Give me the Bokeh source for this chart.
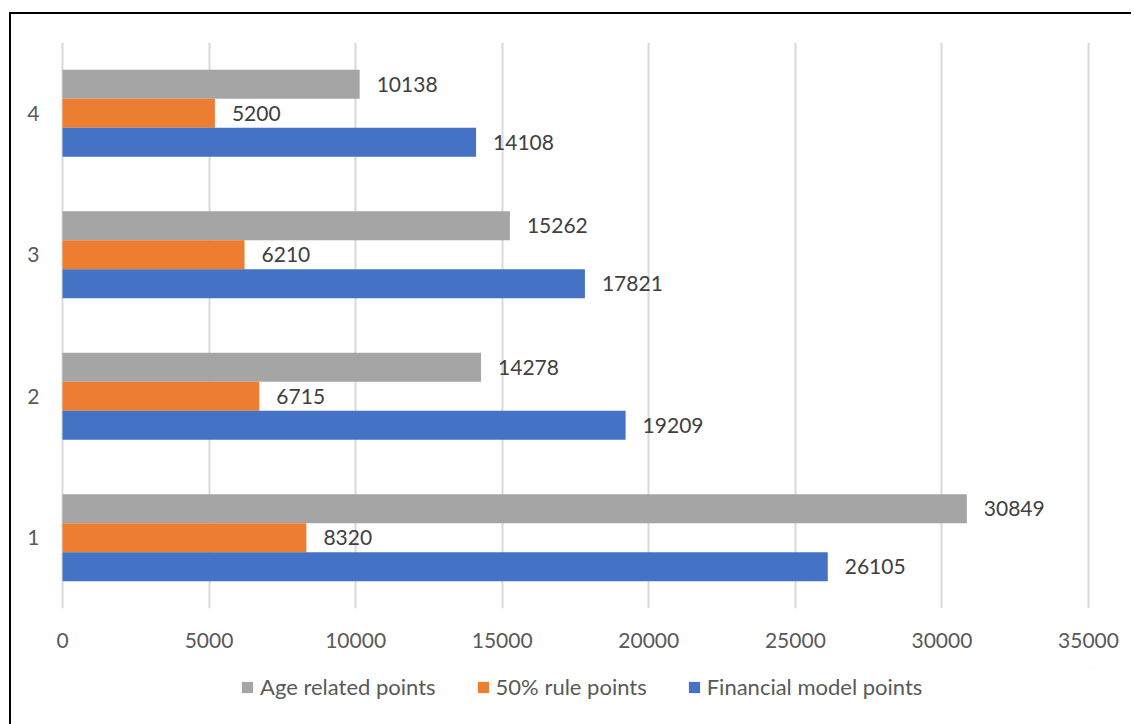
from bokeh.plotting import figure
from bokeh.layouts import column
from bokeh.models import ColumnDataSource, FactorRange, Range1d, Legend, LegendItem, FixedTicker
from bokeh.transform import dodge
from bokeh.core.properties import value
from bokeh.embed import file_html
from bokeh.resources import INLINE

categories = ["1", "2", "3", "4"]
financial = [26105, 19209, 17821, 14108]
rule50 = [8320, 6715, 6210, 5200]
age = [30849, 14278, 15262, 10138]
series_names = ["Age related points", "50% rule points", "Financial model points"]
x_ticks = [0, 5000, 10000, 15000, 20000, 25000, 30000, 35000]

FONT = "Lato"
colors = {"age": "#A5A5A5", "rule": "#ED7D31", "fin": "#4472C4"}

src = ColumnDataSource(dict(cat=categories, fin=financial, rule=rule50, age=age,
                            fin_t=[str(v) for v in financial],
                            rule_t=[str(v) for v in rule50],
                            age_t=[str(v) for v in age]))

p = figure(width=1120, height=654, output_backend="svg", toolbar_location=None,
           y_range=FactorRange(factors=categories, range_padding=0),
           x_range=Range1d(-170, 35170),
           min_border_left=46, min_border_right=38, min_border_top=28, min_border_bottom=60)
p.outline_line_color = None
p.background_fill_color = "white"
p.border_fill_color = "white"

h = 0.205
p.hbar(y=dodge("cat", h, range=p.y_range), right="age", left=0, height=h,
       source=src, fill_color=colors["age"], line_color=None)
p.hbar(y=dodge("cat", 0, range=p.y_range), right="rule", left=0, height=h,
       source=src, fill_color=colors["rule"], line_color=None)
p.hbar(y=dodge("cat", -h, range=p.y_range), right="fin", left=0, height=h,
       source=src, fill_color=colors["fin"], line_color=None)

for col, off in (("age", h), ("rule", 0), ("fin", -h)):
    p.text(x=col, y=dodge("cat", off, range=p.y_range), text=col + "_t", source=src,
           x_offset=17, text_baseline="middle", text_align="left",
           text_font=value(FONT), text_font_size="21px", text_color="#404040")

# axes
p.xaxis.ticker = FixedTicker(ticks=x_ticks)
p.xaxis.axis_line_color = None
p.xaxis.major_tick_line_color = None
p.xaxis.minor_tick_line_color = None
p.xaxis.major_label_standoff = 18
p.xaxis.major_label_text_font = FONT
p.xaxis.major_label_text_font_size = "21px"
p.xaxis.major_label_text_color = "#595959"

p.yaxis.axis_line_color = None
p.yaxis.major_tick_line_color = None
p.yaxis.minor_tick_line_color = None
p.yaxis.major_label_standoff = 12
p.yaxis.major_label_text_font = FONT
p.yaxis.major_label_text_font_size = "21px"
p.yaxis.major_label_text_color = "#595959"

p.ygrid.grid_line_color = None
p.xgrid.ticker = FixedTicker(ticks=x_ticks)
p.xgrid.grid_line_color = "#D9D9D9"
p.xgrid.grid_line_width = 2

# legend strip below the chart
lg = figure(width=1120, height=56, output_backend="svg", toolbar_location=None,
            x_axis_type=None, y_axis_type=None, min_border=0,
            x_range=Range1d(0, 1), y_range=Range1d(0, 1))
lg.outline_line_color = None
lg.border_fill_color = "white"
away = dict(y=[5], right=[5], left=[4], height=0.5)
l_age = lg.hbar(fill_color=colors["age"], line_color=None, **away)
l_rule = lg.hbar(fill_color=colors["rule"], line_color=None, **away)
l_fin = lg.hbar(fill_color=colors["fin"], line_color=None, **away)

legend = Legend(items=[LegendItem(label=series_names[0], renderers=[l_age]),
                       LegendItem(label=series_names[1], renderers=[l_rule]),
                       LegendItem(label=series_names[2], renderers=[l_fin])],
                orientation="horizontal", location=(183, 24),
                glyph_width=14, glyph_height=14, label_standoff=6, spacing=40,
                padding=0, margin=0, border_line_color=None, background_fill_alpha=0,
                label_text_font=FONT, label_text_font_size="22px", label_text_color="#595959")
lg.add_layout(legend, "center")

layout = column(p, lg, spacing=0,
                styles={"margin-left": "9px", "margin-top": "12px",
                        "border-left": "2px solid black", "border-top": "2px solid black"})

open("out.html", "w").write(file_html(layout, INLINE))
